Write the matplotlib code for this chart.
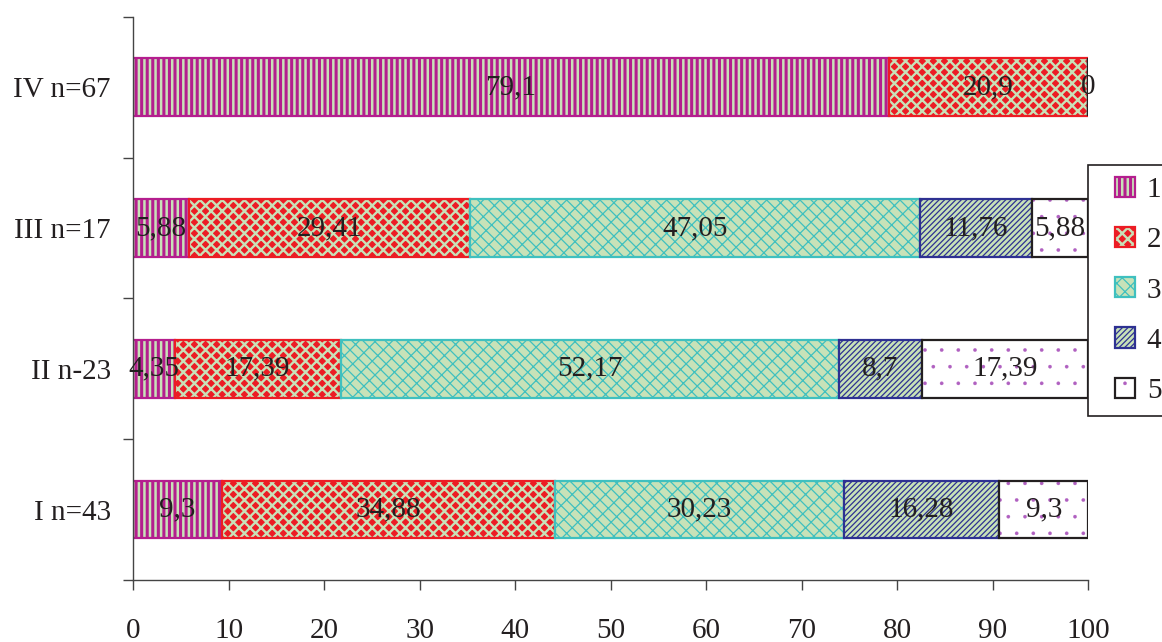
import numpy as np
import matplotlib
matplotlib.use('Agg')
import matplotlib.pyplot as plt
import matplotlib.patches as mpatches
from matplotlib.legend_handler import HandlerBase

plt.rcParams['font.family'] = ['Liberation Serif', 'DejaVu Serif']

# Groups from bottom to top and share of each grade (%)
groups = ['I n=43', 'II n-23', 'III n=17', 'IV n=67']
grade_1 = [9.3, 4.35, 5.88, 79.1]
grade_2 = [34.88, 17.39, 29.41, 20.9]
grade_3 = [30.23, 52.17, 47.05, 0]
grade_4 = [16.28, 8.7, 11.76, np.nan]
grade_5 = [9.3, 17.39, 5.88, np.nan]
grade_names = ['1', '2', '3', '4', '5']
xticks = [0, 10, 20, 30, 40, 50, 60, 70, 80, 90, 100]

green = '#c8e2b8'
# face colour, hatch colour, hatch, hatch width, border colour
styles = [
    dict(face=green, hc='#b41e8e', hatch='|||', hlw=2.2, border='#b41e8e'),
    dict(face='#ec1c24', hc=green, hatch='xxx', hlw=1.7, border='#ec1c24'),
    dict(face=green, hc='#3fc0bf', hatch='\\\\\\//', hlw=0.9, border='#3fc0bf'),
    dict(face=green, hc='#2e3192', hatch='//////', hlw=0.9, border='#2e3192'),
    dict(face='white', hc='#b060c0', hatch='.', hlw=0.2, border='#231f20'),
]


class SquareHandler(HandlerBase):
    # draw legend keys as small squares at the right end of the handle box
    def create_artists(self, legend, orig, xdescent, ydescent, width, height,
                       fontsize, trans):
        parts = orig if isinstance(orig, tuple) else (orig,)
        for p in parts:
            p.set_bounds(width - height - xdescent, -ydescent, height, height)
            p.set_transform(trans)
        return list(parts)


fig = plt.figure(figsize=(11.62, 6.42), dpi=100)
ax = fig.add_axes([0.1145, 0.0966, 0.822, 0.877])

y = np.arange(len(groups))
left = np.zeros(len(groups))
handles = []
for vals, st in zip([grade_1, grade_2, grade_3, grade_4, grade_5], styles):
    vals = np.array(vals, dtype=float)
    w = np.nan_to_num(vals)
    plt.rcParams['hatch.linewidth'] = st['hlw']
    ax.barh(y, w, left=left, height=0.41, color=st['face'],
            edgecolor=st['hc'], hatch=st['hatch'], linewidth=0)
    ax.barh(y, w, left=left, height=0.41, color='none',
            edgecolor=st['border'], linewidth=1.6)
    handles.append((mpatches.Rectangle((0, 0), 1, 1, facecolor=st['face'],
                                       edgecolor=st['hc'], hatch=st['hatch'],
                                       linewidth=0),
                    mpatches.Rectangle((0, 0), 1, 1, facecolor='none',
                                       edgecolor=st['border'], linewidth=1.6)))
    for yi, xi, v in zip(y, left, vals):
        if np.isnan(v):
            continue
        txt = ('%g' % v).replace('.', ',')
        ax.text(xi + v / 2, yi, txt, ha='center', va='center',
                fontsize=21, color='#231f20')
    left = left + w

ax.set_xlim(0, 100)
ax.set_ylim(-0.5, 3.5)
ax.set_xticks(xticks)
ax.set_xticklabels([str(t) for t in xticks])
ax.set_yticks(np.arange(-0.5, 4, 1))
ax.set_yticklabels([])
ax.set_yticks(y, minor=True)
ax.set_yticklabels(groups, minor=True)
ax.tick_params(axis='y', which='minor', length=0, pad=16, labelsize=21,
               labelcolor='#231f20')
ax.tick_params(axis='y', which='major', length=7.2, width=1, color='#444444')
ax.tick_params(axis='x', length=7.2, width=1, pad=20, labelsize=21,
               color='#444444', labelcolor='#231f20')
for s in ['top', 'right']:
    ax.spines[s].set_visible(False)
for s in ['left', 'bottom']:
    ax.spines[s].set_color('#444444')
    ax.spines[s].set_linewidth(1)

leg = ax.legend(handles, grade_names, loc='upper left', bbox_to_anchor=(1.0, 0.737),
                borderaxespad=0, fontsize=21, frameon=True, fancybox=False,
                edgecolor='#231f20', framealpha=1, handlelength=1.21,
                handleheight=0.69, handletextpad=0.4, labelspacing=0.82,
                borderpad=0.4, labelcolor='#231f20',
                handler_map={tuple: SquareHandler()})
leg.get_frame().set_linewidth(1.2)

fig.savefig('out.png', dpi=100)
